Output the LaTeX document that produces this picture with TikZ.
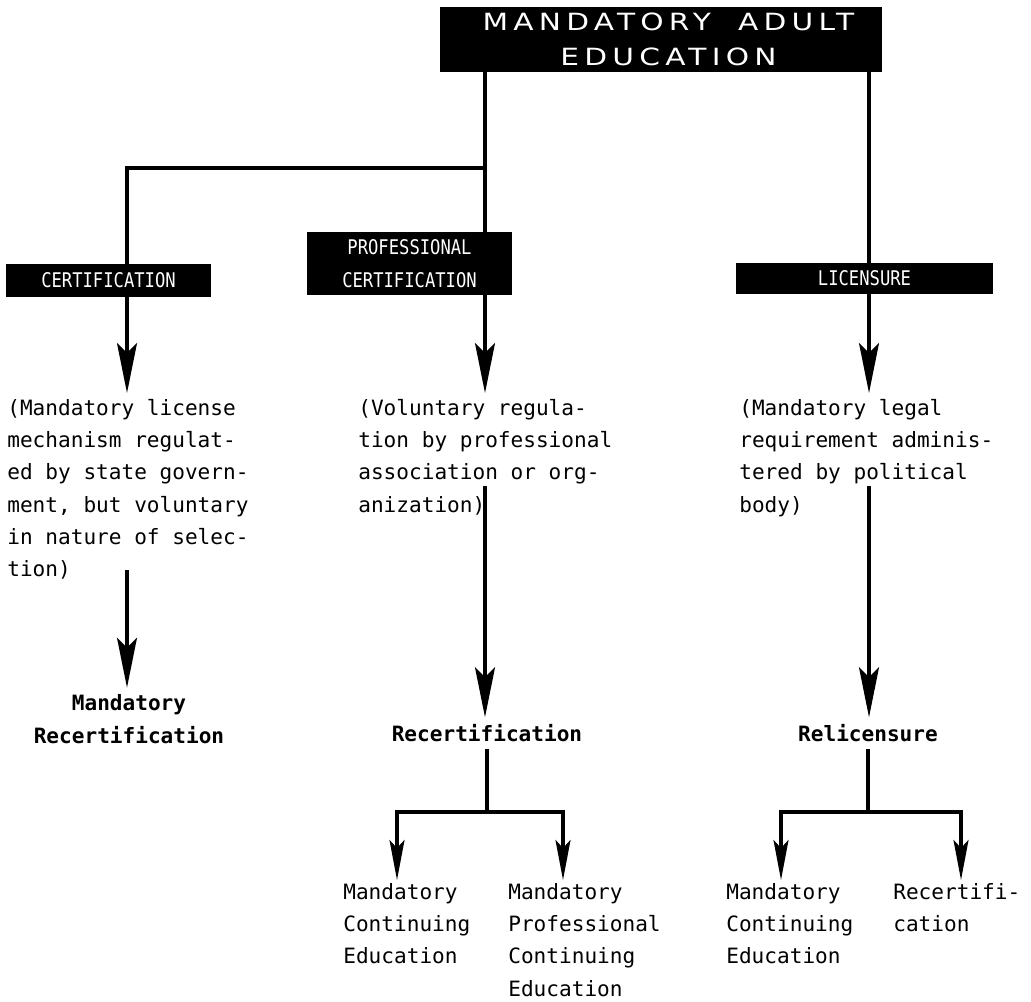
\documentclass[tikz,border=0pt]{standalone}
\usepackage{fontspec}
\usepackage{tikz}
\usetikzlibrary{arrows.meta,backgrounds}
\setmonofont{DejaVu Sans Mono}
\newfontfamily\titlefont[FakeStretch=1.25, LetterSpace=22]{DejaVu Sans}
\newfontfamily\boxfont[FakeStretch=0.85]{DejaVu Sans Mono}

\tikzset{
    blackbox/.style={rectangle, fill=black, text=white, inner sep=0pt, align=center},
    note/.style={inner xsep=0pt, inner ysep=5.5pt, anchor=north west, align=left, font=\ttfamily\fontsize{12}{18.4}\selectfont},
    result/.style={inner sep=0pt, outer sep=4pt, align=center, font=\ttfamily\bfseries\fontsize{12}{18.4}\selectfont},
    link/.style={line width=1.8pt},
    bigarrow/.style={link, -{Stealth[length=1cm, width=0.4cm, inset=0.2cm]}},
    smallarrow/.style={link, -{Stealth[length=0.8cm, width=0.3cm, inset=0.16cm]}}
}

\begin{document}
\begin{tikzpicture}[x=0.02cm, y=-0.02cm]
    \useasboundingbox (0,0) rectangle (1031,1001);

    % headings
    \node at (661,39.5) [blackbox, minimum width=8.84cm, minimum height=1.3cm, font=\titlefont\fontsize{13.5}{19.3}\selectfont] (mae) {\hspace*{0.3cm}MANDATORY\hspace{0.25cm} ADULT\\[-1pt]\hspace*{0.3cm}\raisebox{-2pt}{EDUCATION}};
    \node at (108.5,280.5) [blackbox, minimum width=4.1cm, minimum height=0.66cm, font=\boxfont\fontsize{11.5}{18.7}\selectfont] (cert) {CERTIFICATION};
    \node at (409.5,263.5) [blackbox, minimum width=4.1cm, minimum height=1.26cm, font=\boxfont\fontsize{11.5}{18.7}\selectfont] (prof) {PROFESSIONAL\\CERTIFICATION};
    \node at (864.5,278.5) [blackbox, minimum width=5.14cm, minimum height=0.62cm, font=\boxfont\fontsize{11.5}{18.7}\selectfont] (lic) {LICENSURE};

    % explanations
    \node at (7,389) [note] (certtext) {(Mandatory license\\mechanism regulat-\\ed by state govern-\\ment, but voluntary\\in nature of selec-\\tion)};
    \node at (358,389) [note] (proftext) {(Voluntary regula-\\tion by professional\\association or org-\\anization)};
    \node at (739,389) [note] (lictext) {(Mandatory legal\\requirement adminis-\\tered by political\\body)};

    % outcomes
    \node at (129,719) [result] (mandrecert) {Mandatory\\Recertification};
    \node at (487,733) [result] (recert) {Recertification};
    \node at (868,733) [result] (relic) {Relicensure};

    \node at (343,873) [note] (mce1) {Mandatory\\Continuing\\Education};
    \node at (508,873) [note] (mpce) {Mandatory\\Professional\\Continuing\\Education};
    \node at (726,873) [note] (mce2) {Mandatory\\Continuing\\Education};
    \node at (893,873) [note] (recert2) {Recertifi-\\cation};

    \coordinate (split) at (485,168);
    \coordinate (tipA) at (127,393);
    \coordinate (tipB) at (485,393);
    \coordinate (tipC) at (869,393);
    \coordinate (fromA) at (127,570);
    \coordinate (fromB) at (485,486);
    \coordinate (fromC) at (869,486);
    \coordinate (lvl) at (0,812);
    \coordinate (tipB1) at (397,880);
    \coordinate (tipB2) at (563,880);
    \coordinate (tipC1) at (781,880);
    \coordinate (tipC2) at (961,880);

    \begin{scope}[on background layer]
        \draw[bigarrow] (mae.south -| split) -- (split) -| (tipA);
        \draw[bigarrow] (split) -- (tipB);
        \draw[bigarrow] (mae.south -| tipC) -- (tipC);

        \draw[bigarrow] (fromA) -- (mandrecert.north -| fromA);
        \draw[bigarrow] (fromB) -- (recert.north -| fromB);
        \draw[bigarrow] (fromC) -- (relic.north -| fromC);

        \draw[link] (recert.south) -- (recert.south |- lvl) coordinate (forkB);
        \draw[smallarrow] (forkB) -| (tipB1);
        \draw[smallarrow] (forkB) -| (tipB2);
        \draw[link] (relic.south) -- (relic.south |- lvl) coordinate (forkC);
        \draw[smallarrow] (forkC) -| (tipC1);
        \draw[smallarrow] (forkC) -| (tipC2);
    \end{scope}
\end{tikzpicture}
\end{document}
